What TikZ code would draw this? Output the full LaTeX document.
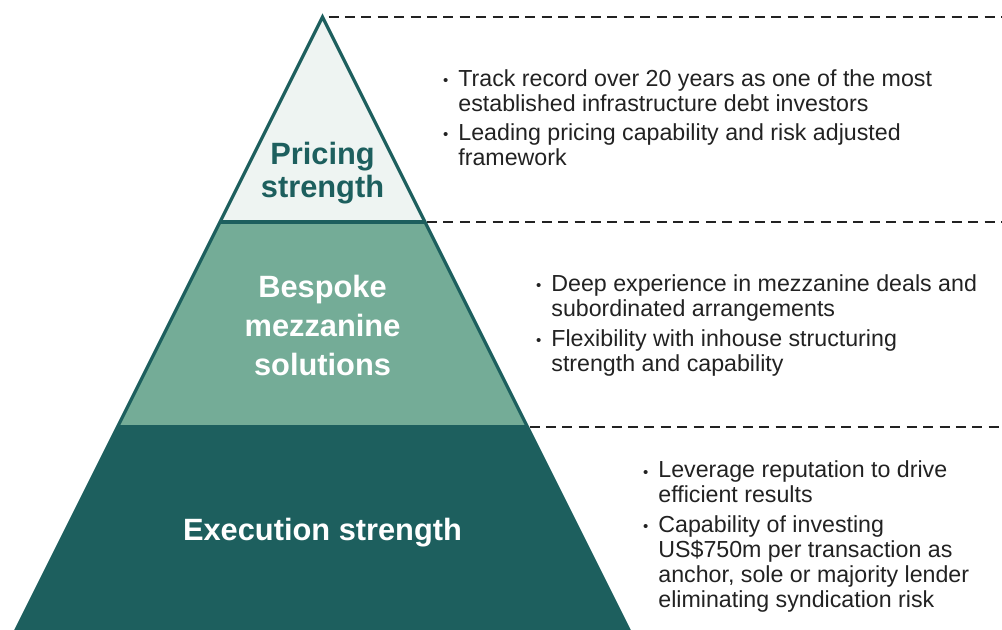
\documentclass[tikz,border=0pt]{standalone}
\usepackage{fontspec}
\setmainfont{Liberation Sans}
\usepackage{xcolor}
\usetikzlibrary{positioning}

\definecolor{tealdark}{HTML}{1D5F5E}
\definecolor{tealmid}{HTML}{74AC97}
\definecolor{teallight}{HTML}{EEF4F2}
\definecolor{inkgrey}{HTML}{222222}

\newcommand{\dotmark}{\llap{\raisebox{0.4pt}{\fontsize{7.5}{7.5}\selectfont\textbullet}\hspace{5pt}}}

\begin{document}
\begin{tikzpicture}[x=0.5pt, y=-0.5pt,
  edge/.style={draw=tealdark, line width=1.6pt, line join=miter},
  guide/.style={draw=inkgrey, line width=0.8pt, dash pattern=on 5pt off 3.2pt},
  title/.style={font=\fontsize{15.4}{17}\selectfont\bfseries, align=center, anchor=base, inner sep=0pt},
  point/.style={font=\fontsize{11.6}{12.6}\selectfont, text=inkgrey, align=left, anchor=base west, inner sep=0pt}
]
\useasboundingbox (0,0) rectangle (1002,630);
\clip (0,0) rectangle (1002,630);

% corners of the pyramid
\coordinate (apex) at (322.5,17);
\coordinate (l1) at (220,222);
\coordinate (r1) at (425,222);
\coordinate (l2) at (117.5,427);
\coordinate (r2) at (527.5,427);
\coordinate (l3) at (14,634);
\coordinate (r3) at (631,634);

% layers
\fill[teallight] (apex) -- (l1) -- (r1) -- cycle;
\fill[tealmid] (l1) -- (l2) -- (r2) -- (r1) -- cycle;
\fill[tealdark] (l2) -- (l3) -- (r3) -- (r2) -- cycle;
\draw[edge] (l3) -- (apex) -- (r3);
\draw[edge] (l1) -- (r1);
\draw[edge] (l2) -- (r2);

% dashed guides
\coordinate (g0) at (1002,17);
\coordinate (g1) at (1002,222);
\coordinate (g2) at (1002,427);
\draw[guide] ([xshift=3pt]apex) -- (g0);
\draw[guide] ([xshift=1pt]r1) -- (g1);
\draw[guide] ([xshift=1pt]r2) -- (g2);

% titles (base = last line)
\node (pricing) at (322.5,198) [title, text=tealdark, font=\fontsize{15.4}{16.8}\selectfont\bfseries] {Pricing\\strength};
\node (bespoke) at (322.5,376) [title, text=white, font=\fontsize{15.4}{19.7}\selectfont\bfseries] {Bespoke\\mezzanine\\solutions};
\node (execution) at (322.5,541) [title, text=white] {Execution strength};

% bullet points (base = last line)
\node (p1) at (458,111.5) [point] {\dotmark Track record over 20 years as one of the most\\established infrastructure debt investors};
\node (p2) at (458,165.5) [point] {\dotmark Leading pricing capability and risk adjusted\\framework};
\node (b1) at (551,317) [point] {\dotmark Deep experience in mezzanine deals and\\subordinated arrangements};
\node (b2) at (551,372) [point] {\dotmark Flexibility with inhouse structuring\\strength and capability};
\node (e1) at (658,503) [point] {\dotmark Leverage reputation to drive\\efficient results};
\node (e2) at (658,608) [point] {\dotmark Capability of investing\\US\$750m per transaction as\\anchor, sole or majority lender\\eliminating syndication risk};

\end{tikzpicture}
\end{document}
